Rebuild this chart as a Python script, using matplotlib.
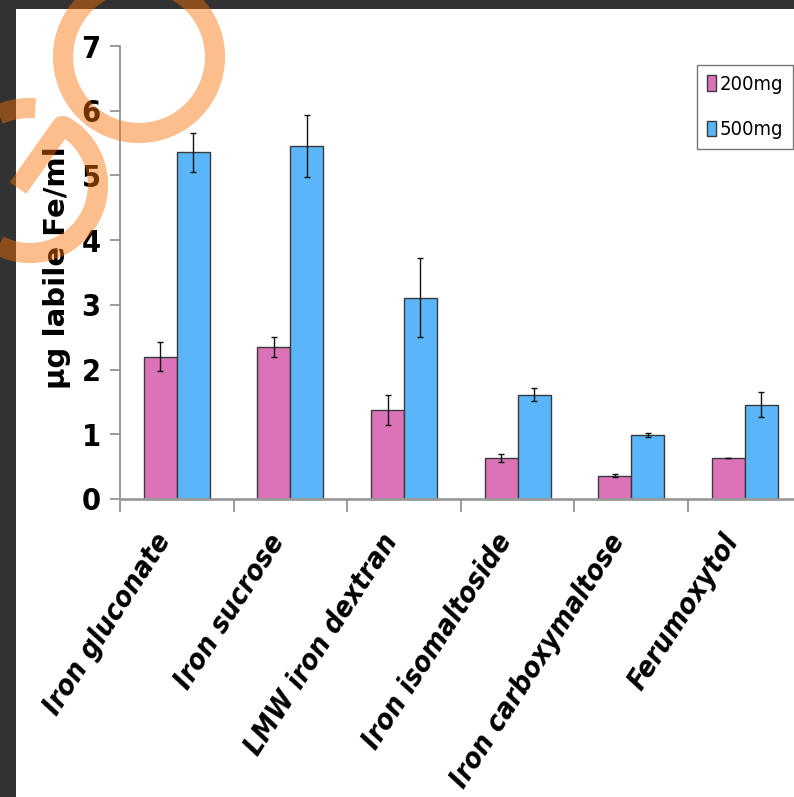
import numpy as np
import matplotlib
matplotlib.use("Agg")
import matplotlib.pyplot as plt
import matplotlib.transforms as mtransforms
from matplotlib.patches import Rectangle, Circle

# --- dados ---
categorias = ['Iron gluconate', 'Iron sucrose', 'LMW iron dextran',
              'Iron isomaltoside', 'Iron carboxymaltose', 'Ferumoxytol']
valores_200 = [2.20, 2.35, 1.38, 0.63, 0.36, 0.63]
erros_200 = [0.22, 0.16, 0.23, 0.065, 0.025, 0.0]
valores_500 = [5.36, 5.46, 3.11, 1.61, 0.99, 1.46]
erros_500 = [0.30, 0.48, 0.61, 0.10, 0.03, 0.19]
rotulos_serie = ['200mg', '500mg']
y_ticks = [0, 1, 2, 3, 4, 5, 6, 7]

cor_rosa = '#dc72b8'
cor_azul = '#5ab6f8'

W, H = 794, 797
fig = plt.figure(figsize=(W / 100, H / 100), dpi=100)
fig.patch.set_facecolor('white')

# eixo principal (posicoes em pixels da imagem)
esq, base, topo = 120, 499, 46
passo = 113.6
ax = fig.add_axes([esq / W, 1 - base / H, 6 * passo / W, (base - topo) / H])

x = np.arange(len(categorias))
larg = 0.29
ax.bar(x - larg / 2, valores_200, larg, color=cor_rosa, edgecolor='#3a3a3a',
       linewidth=1.0, label=rotulos_serie[0], zorder=2)
ax.bar(x + larg / 2, valores_500, larg, color=cor_azul, edgecolor='#3a3a3a',
       linewidth=1.0, label=rotulos_serie[1], zorder=2)
ax.errorbar(x - larg / 2, valores_200, yerr=erros_200, fmt='none', ecolor='#111111',
            elinewidth=1.0, capsize=2.5, capthick=1.0, zorder=3)
ax.errorbar(x + larg / 2, valores_500, yerr=erros_500, fmt='none', ecolor='#111111',
            elinewidth=1.0, capsize=2.5, capthick=1.0, zorder=3)

ax.set_xlim(-0.5, len(categorias) - 0.5)
ax.set_ylim(0, 7)
ax.set_yticks(y_ticks)
ax.set_yticklabels([str(v) for v in y_ticks], fontsize=22, fontweight='bold',
                   family='DejaVu Sans', fontstretch='condensed')
ax.tick_params(axis='y', direction='out', length=7, width=1.2, color='#8a8a8a', pad=7)

ax.set_xticks(x)
ax.set_xticks(np.arange(-0.5, len(categorias), 1.0), minor=True)
ax.tick_params(axis='x', which='major', length=0, pad=27)
ax.tick_params(axis='x', which='minor', direction='out', length=9, width=1.2,
               color='#8a8a8a')
ax.set_xticklabels(categorias, rotation=57, ha='right', va='center',
                   rotation_mode='anchor', fontsize=20.5, fontweight='bold',
                   fontstyle='italic', family='DejaVu Sans', fontstretch='condensed')
desloc = mtransforms.ScaledTranslation(-12 / 100, 0, fig.dpi_scale_trans)
for lbl in ax.get_xticklabels():
    lbl.set_transform(lbl.get_transform() + desloc)

for lado in ['top', 'right']:
    ax.spines[lado].set_visible(False)
ax.spines['left'].set_color('#8a8a8a')
ax.spines['left'].set_linewidth(1.2)
ax.spines['bottom'].set_color('#9a9a9a')
ax.spines['bottom'].set_linewidth(2.0)

fig.text(57 / W, 1 - 268 / H, 'µg labile Fe/ml', rotation=90, ha='center',
         va='center', fontsize=21, fontweight='bold', family='DejaVu Sans')

leg = fig.legend(loc='upper left', bbox_to_anchor=(697 / W, 1 - 65 / H),
                 frameon=True, fancybox=False, edgecolor='#555555',
                 prop={'family': 'DejaVu Sans', 'stretch': 'condensed', 'size': 14.5},
                 handlelength=0.45, handleheight=0.8, handletextpad=0.15,
                 labelspacing=1.3, borderpad=0.5, borderaxespad=0)
leg.get_frame().set_linewidth(1.0)

# moldura escura e marca d'agua laranja (sobreposicao em pixels)
sob = fig.add_axes([0, 0, 1, 1], zorder=10)
sob.set_xlim(0, W)
sob.set_ylim(H, 0)
sob.axis('off')
sob.patch.set_alpha(0)
sob.add_patch(Rectangle((0, 0), 16, H, color='#323232', lw=0))
sob.add_patch(Rectangle((0, 0), W, 9, color='#323232', lw=0))

laranja = (248 / 255, 112 / 255, 0)
sob.add_patch(Circle((139, 57), 76, fill=False, edgecolor=laranja, alpha=0.45,
                     lw=14.5))
cx, cy, r = 30, 185, 68
ang = np.radians(np.linspace(60, -135, 80))
px = np.concatenate([[18, 62], cx + r * np.cos(ang)])
py = np.concatenate([[188, 126], cy - r * np.sin(ang)])
sob.plot(px, py, color=laranja, alpha=0.45, lw=14.5, solid_capstyle='butt',
         solid_joinstyle='round')
ang2 = np.radians(np.linspace(118, 86, 20))
sob.plot(cx + 77 * np.cos(ang2), cy - 77 * np.sin(ang2), color=laranja, alpha=0.45,
         lw=14.5, solid_capstyle='butt')

fig.savefig('out.png', dpi=100)
